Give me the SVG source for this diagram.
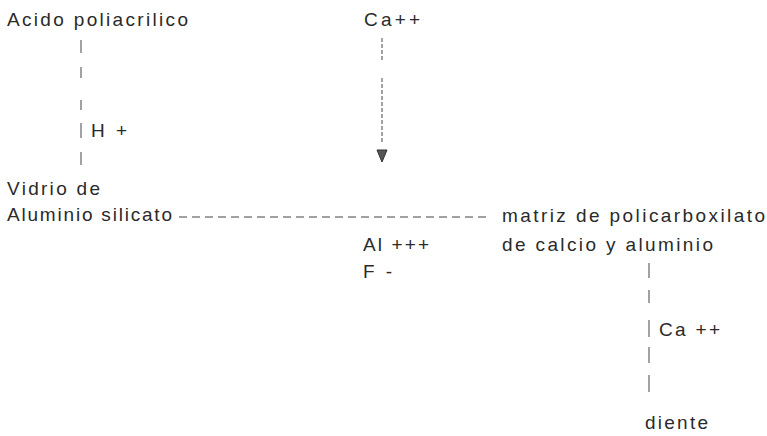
<svg xmlns="http://www.w3.org/2000/svg" width="767" height="436" viewBox="0 0 767 436">
<defs>
<style>
text{font-family:"Liberation Sans",Arial,sans-serif;font-size:19px;fill:#2a2a2a;}
.c{stroke:#444;stroke-width:1;fill:none;}
.h{stroke-dasharray:8 5;}
.a{stroke-dasharray:4 2;}
</style>
</defs>
<rect width="767" height="436" fill="#fff"/>
<g id="connectors">
<path class="c" d="M81,40 V53 M81,67 V78 M81,100 V110 M81,123 V138 M81,152 V165"/>
<path class="c a" d="M382,38 V62 M382,78 V142"/>
<path d="M377,150 L387,150 L382,162 Z" fill="#555" stroke="#333" stroke-width="1"/>
<line class="c h" x1="179" y1="217" x2="486" y2="217"/>
<path class="c" d="M649,263 V278 M649,290 V303 M649,320 V337 M649,347 V363 M649,375 V392"/>
</g>
<g id="acido"><text x="7" y="26" textLength="181" lengthAdjust="spacing">Acido poliacrilico</text></g>
<g id="ca"><text x="364" y="26" textLength="56" lengthAdjust="spacing">Ca++</text></g>
<g id="h"><text x="91" y="137" textLength="36" lengthAdjust="spacing">H +</text></g>
<g id="vidrio"><text x="7" y="195" textLength="93" lengthAdjust="spacing">Vidrio de</text><text x="7" y="221" textLength="165" lengthAdjust="spacing">Aluminio silicato</text></g>
<g id="al"><text x="363" y="251" textLength="66" lengthAdjust="spacing">Al +++</text><text x="363" y="278" textLength="29" lengthAdjust="spacing">F -</text></g>
<g id="matriz"><text x="502" y="222" textLength="263" lengthAdjust="spacing">matriz de policarboxilato</text><text x="502" y="251" textLength="211" lengthAdjust="spacing">de calcio y aluminio</text></g>
<g id="ca2"><text x="659" y="336" textLength="61" lengthAdjust="spacing">Ca ++</text></g>
<g id="diente"><text x="645" y="429" textLength="63" lengthAdjust="spacing">diente</text></g>
</svg>
